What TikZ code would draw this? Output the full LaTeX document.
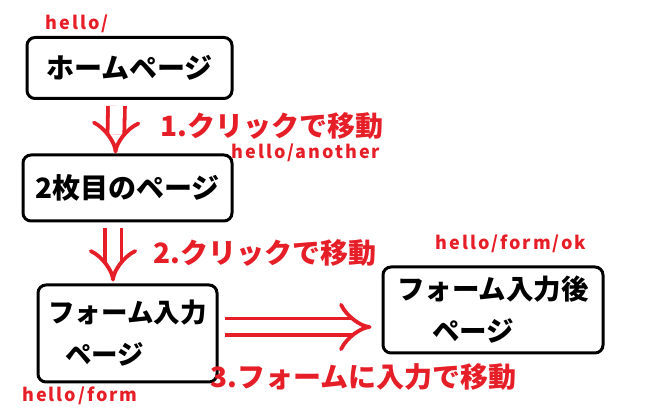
\documentclass[tikz,border=0pt]{standalone}
\usepackage{fontspec}
\setmainfont{Noto Sans CJK JP}
\newfontfamily\urlfont{Noto Sans CJK JP}[LetterSpace=11]
\usetikzlibrary{arrows.meta}
\definecolor{pen}{RGB}{230,30,40}

\begin{document}
\begin{tikzpicture}[x=1pt,y=-1pt,
  pg/.style={draw=black,line width=3pt,rounded corners=8pt,inner sep=0pt,align=left,font=\bfseries\fontsize{28}{42}\selectfont},
  url/.style={text=pen,inner sep=0pt,font=\urlfont\bfseries\fontsize{18}{20}\selectfont},
  lbl/.style={text=pen,inner sep=0pt,anchor=west,font=\bfseries\fontsize{28}{30}\selectfont},
  go/.style={draw=pen,line width=3.8pt,double=white,double distance=13pt,-{Implies[length=17pt,width=42pt]}}]
\useasboundingbox (0,0) rectangle (670,411);
\node[pg,minimum width=205pt,minimum height=61pt] (home) at (129.5,68) {ホームページ};
\node[pg,minimum width=209pt,minimum height=66pt] (second) at (127.5,188) {2枚目のページ};
\node[pg,minimum width=179pt,minimum height=97pt,font=\bfseries\fontsize{26.5}{42}\selectfont] (form) at (127.5,333.5) {フォーム入力\\\hspace*{17pt}ページ};
\node[pg,minimum width=220pt,minimum height=86pt,font=\bfseries\fontsize{27.5}{42}\selectfont] (ok) at (493,310) {フォーム入力後\\\hspace*{35pt}ページ};
% urls
\node[url] (u1) at (77,24) {hello/};
\node[url] (u2) at (306,153) {hello/another};
\node[url] (u3) at (80,396) {hello/form};
\node[url] (u4) at (511,244) {hello/form/ok};
% moves
\draw[go] ([xshift=-13pt,yshift=-6pt]home.south) -- ([xshift=-12pt]second.north);
\draw[go] ([xshift=-14.5pt,yshift=-6pt]second.south) -- ([xshift=-14.5pt,yshift=2pt]form.north);
\draw[go] ([shift={(6pt,6.5pt)}]form.east) -- ([shift={(-10pt,-17pt)}]ok.west);
\node[lbl] (m1) at (160,126) {1.クリックで移動};
\node[lbl] (m2) at (153,253) {2.クリックで移動};
\node[lbl] (m3) at (210,377) {3.フォームに入力で移動};
\end{tikzpicture}
\end{document}
